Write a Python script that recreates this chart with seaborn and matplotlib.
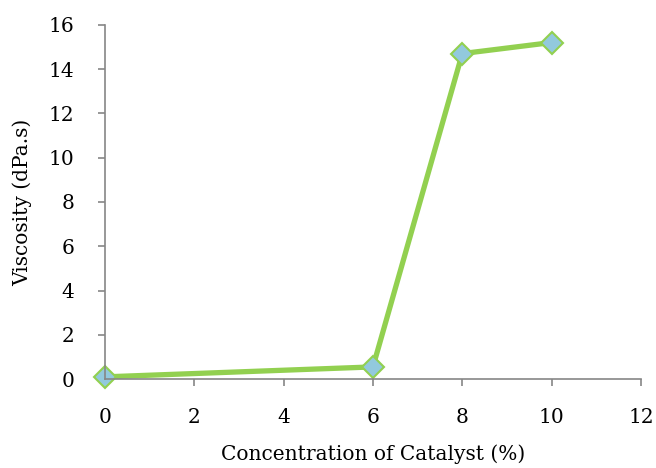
import matplotlib
matplotlib.use("Agg")
import matplotlib.pyplot as plt
import seaborn as sns
import pandas as pd

# 数据
catalyst = [0, 6, 8, 10]
viscosity = [0.1, 0.55, 14.7, 15.2]
x_ticks = [0, 2, 4, 6, 8, 10, 12]
y_ticks = [0, 2, 4, 6, 8, 10, 12, 14, 16]

sns.set_style("ticks")
plt.rcParams['font.family'] = ['DejaVu Serif']

df = pd.DataFrame({"catalyst": catalyst, "viscosity": viscosity})

fig = plt.figure(figsize=(6.56, 4.68), dpi=100)
ax = fig.add_axes([0.16, 0.19, 0.817, 0.757])
sns.lineplot(data=df, x="catalyst", y="viscosity", ax=ax, color="#92D050",
             linewidth=3.8, marker="D", markersize=11.5, markerfacecolor="#92C9DD",
             markeredgecolor="#92D050", markeredgewidth=1.5, clip_on=False)

ax.set_xlim(0, 12)
ax.set_ylim(0, 16)
ax.set_xticks(x_ticks)
ax.set_yticks(y_ticks)
ax.set_xlabel("Concentration of Catalyst (%)", fontsize=14.5, labelpad=12, color="black")
ax.set_ylabel("Viscosity (dPa.s)", fontsize=14.5, labelpad=12, color="black")
ax.tick_params(labelsize=14.5, color="#868686", labelcolor="black", length=5, width=1.2)
ax.tick_params(axis="x", pad=16)
ax.tick_params(axis="y", pad=17)
for side in ["left", "bottom"]:
    ax.spines[side].set_color("#868686")
    ax.spines[side].set_linewidth(1.2)
sns.despine(ax=ax)

fig.savefig("out.png", dpi=100)
